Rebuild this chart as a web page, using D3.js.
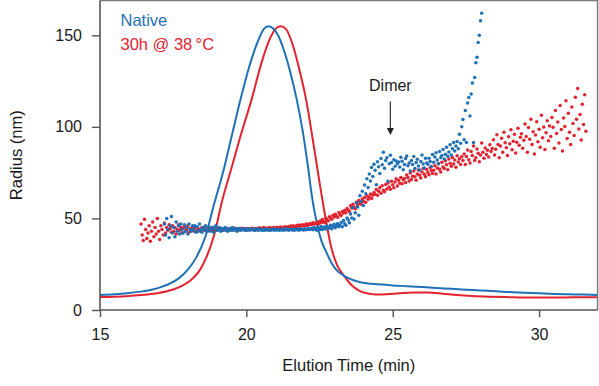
<!DOCTYPE html>
<html><head><meta charset="utf-8">
<script src="https://cdn.jsdelivr.net/npm/d3@7/dist/d3.min.js"></script>
<style>
body{margin:0;background:#fff}
svg{display:block;font-family:"Liberation Sans",Arial,Helvetica,sans-serif}
</style>
</head><body>
<svg id="chart" width="599" height="386"></svg>
<script>
// ---------------- data ----------------
const xTicks = [15, 20, 25, 30];
const yTicks = [0, 50, 100, 150];
const seriesNames = ["Native", "30h @ 38\u2009\u00B0C"];

// concentration traces (elution time, scaled signal on radius axis)
const nativeTrace = [
  [15.0,8.2],[15.5,8.6],[16.0,9.3],[16.5,10.3],[16.8,11.2],[17.1,12.6],[17.4,14.5],[17.7,17.4],
  [18.0,22.0],[18.3,29],[18.6,40],[18.9,58],[19.2,75],[19.5,95],[19.8,115],[20.1,133],[20.4,147],
  [20.6,153.5],[20.75,155],[20.9,154],[21.1,149.5],[21.3,141],[21.5,130],[21.72,115],[21.9,100],
  [22.1,79],[22.24,62],[22.4,48],[22.56,38],[22.72,32],[22.9,26],[23.1,21.5],[23.3,19],[23.5,17.3],
  [23.8,15.6],[24.1,14.6],[24.5,14.0],[25.0,13.4],[25.5,13.0],[26.0,12.5],[26.5,12.0],[27.0,11.6],
  [27.5,11.1],[28.0,10.7],[28.5,10.2],[29.0,9.8],[29.5,9.4],[30.0,9.1],[30.5,8.8],[31.0,8.6],
  [31.5,8.4],[32.0,8.2]
];
const heatedTrace = [
  [15.0,7.1],[15.5,7.3],[16.0,7.7],[16.5,8.3],[17.0,9.3],[17.5,11.2],[17.8,13.2],[18.1,16.3],
  [18.4,21.5],[18.64,29],[18.9,41],[19.18,60],[19.5,78],[19.8,95],[20.18,115],[20.5,134],[20.8,148],
  [21.0,153.5],[21.17,155],[21.35,153.5],[21.6,144],[21.8,132],[22.04,115],[22.3,90],[22.6,60],
  [22.92,33],[23.1,24.5],[23.37,18],[23.6,13.5],[23.85,10.6],[24.11,9.1],[24.4,8.5],[24.8,8.6],
  [25.2,9.1],[25.7,9.6],[26.2,9.5],[26.7,8.9],[27.2,8.2],[27.7,7.7],[28.3,7.3],[29.0,7.0],
  [29.8,6.8],[30.5,6.8],[31.2,6.9],[32.0,6.9]
];

// light-scattering radius readings, sampled every 0.04 min (one row = 1 min)
const sampleStep = 0.04;
const nativeStart = 17.2;
const nativeRadius = [
  47,41,50,44,39.5,46,51,42,45,40,48,43,46,41.5,47,44,42,46.5,43,45,41.5,47,44,43,46,
  44,46,42.5,45.5,43,47,44,42.5,45,44,46,43,44.5,45.5,43,44,45,42.5,44.5,46,43.5,44,45,43,44.5,
  44,43.5,45,44,43,44.5,44,43.5,45,43.5,44,44.5,43,44,44.5,43.5,44,43.8,44.5,43.5,44,43.6,44.3,43.7,44,
  43.8,44.2,43.4,43.9,44.3,43.5,43.8,44.1,43.6,43.9,43.4,44.2,43.7,43.9,43.5,44,43.6,43.8,44.2,43.5,43.9,43.7,44.1,43.6,43.8,
  43.9,43.5,44.2,43.7,43.9,44.3,43.6,43.8,44.1,43.7,44,43.5,44.2,43.8,44.1,43.6,44.3,43.9,44,43.7,44.4,43.8,44.1,44.5,43.9,
  44.2,44.6,43.8,45,44.4,43.6,45.2,44.5,44,45.6,43.9,44.8,45.3,44.2,45.8,44.6,45.1,46.3,44.4,45.7,46.8,44.9,46,47.2,45.5,
  46.2,47.8,45.4,48.9,47.1,46.3,50.2,49.1,47.6,52.4,50.3,55.8,49.7,53.1,58.6,56.2,51.8,62.4,59.3,64.8,57.1,68.2,63.5,71.6,66.9,
  74.2,70.5,77.8,72.9,79.6,76.3,68.4,80.9,78.2,74.6,82.7,79.3,86.1,77.4,81.6,83.2,70.3,79.8,84.5,80.6,76.9,82.1,78.5,81.3,79.9,
  80.8,78.1,83.4,81.2,76.6,79.5,82.7,84.1,78.8,80.3,75.9,81.7,79.4,83.8,77.2,80.5,82.3,78.6,76.4,81.1,84.6,79.7,77.5,82.9,80.2,
  79.6,82.8,81.1,78.4,84.9,80.7,83.5,85.8,81.9,79.8,86.6,83.2,84.4,87.7,82.5,85.1,88.9,83.9,86.3,90.2,84.7,88.1,91.4,86.8,89.5,
  92,88,96,91,100,104,93,109,91.5,113,116,106,118,124,91.5,127,135,138,146,150,158,162
];
const heatedStart = 16.4;
const heatedRadius = [
  47,41,38,49.5,44,39,42,46,37.5,43,48,40,45,41.5,50,43,38.5,46,44,41,47.5,42,45,43.5,46.5,
  44.5,42.5,46,43,45,41.5,44,46.5,43.5,45,42,44.5,45.5,43,44,46,42.5,44.5,43.5,45,44,42.8,45.2,43.6,44.4,
  44,43.2,45,44.2,43.5,44.8,43.8,44.5,43.3,44.6,44,43.6,45,43.9,44.3,43.5,44.7,44,43.8,44.4,43.6,44.2,44.8,43.7,44.1,
  44.2,43.7,44.5,43.9,44.1,44.6,43.8,44.3,43.6,44.4,44,44.7,43.9,44.2,43.7,44.5,44.1,43.8,44.4,44,44.6,43.9,44.2,44.5,43.8,
  44.4,44.9,44.1,44.6,44.3,45,44.5,44.2,44.8,44.4,45.1,44.6,44.3,45,44.7,44.5,45.2,44.8,44.6,45.3,44.9,45.1,44.7,45.4,45,
  45.2,45.6,44.9,45.8,45.3,46,45.5,45.1,46.2,45.7,46.4,45.4,46.1,46.6,45.9,46.3,46.9,46.2,47,46.5,47.3,46.7,47.6,47,47.4,
  47.2,48.1,46.9,48.6,47.8,49.4,48.2,47.6,50.1,49.3,48.8,50.9,50.2,49.6,51.7,50.8,52.3,51.1,50.6,53.2,52.1,51.6,53.8,52.9,54.3,
  53.1,55.4,54.6,53.8,56.9,55.7,57.8,56.2,55.3,58.9,57.4,59.8,58.3,57.7,60.6,59.2,61.4,58.8,62.3,60.5,61.7,63.4,60.9,62.6,64.1,
  63.2,65.8,62.7,64.9,66.7,63.8,67.9,65.4,64.6,68.5,66.1,69.4,67.2,65.9,70.3,68.4,66.8,69.9,71.6,67.7,70.8,69.2,72.4,68.9,71.1,
  71.8,69.6,73.7,72.3,70.4,74.8,71.2,73.1,75.9,72.7,70.8,74.3,76.4,73.6,72.1,75.4,77.3,74.1,72.8,76.7,75.1,73.9,77.8,76.2,74.6,
  76.3,78.8,74.2,77.6,79.9,76.8,75.4,80.7,78.1,77.2,81.5,79.3,76.6,82.4,80.1,78.5,83.3,79.7,81.9,77.9,84.2,80.8,82.6,79.4,83.7,
  81.6,85.2,79.4,83.8,87.3,82.1,80.2,86.5,84.3,89.6,81.7,83.1,87.9,85.6,80.9,84.7,91.2,86.1,82.8,88.4,84.9,87.2,83.5,90.3,86.6,
  88.2,92.9,84.6,87.8,95.7,90.4,83.1,89.5,93.8,86.2,97.1,91.3,88.6,84.4,94.6,90.8,98.4,87.5,92.1,95.9,85.7,91.6,99.2,89.9,94.3,
  96.2,88.3,92.7,101.5,94.8,86.1,99.6,93.2,104.2,90.4,97.3,85.2,95.5,102.8,91.9,98.7,88.9,106.4,94.1,99.9,87.7,96.8,103.3,92.4,100.5,
  94.7,105.1,99.8,88.3,108.9,96.4,102.7,91.2,111.6,98.5,86.8,104.9,100.2,114.3,93.6,107.4,97.1,90.4,110.8,101.9,95.3,116.2,104.1,121,98.8,
  106.7,92.8,112.4,101.3,117.5,97.6
];

// annotation
const dimerLabel = "Dimer";
const dimerTime = 24.92;

// ---------------- drawing ----------------
const BLUE = "#1f70b6", RED = "#e3232f";
const FONT = '"Liberation Sans", Arial, Helvetica, sans-serif';
const svg = d3.select("#chart");
const x = d3.scaleLinear().domain([15, 32]).range([100, 597.6]);
const y = d3.scaleLinear().domain([0, 169]).range([310, 0.5]);

const defs = svg.append("defs");
defs.append("clipPath").attr("id", "plot").append("rect")
  .attr("x", 100).attr("y", 0).attr("width", 498).attr("height", 310);

const plot = svg.append("g").attr("clip-path", "url(#plot)");

const line = d3.line().x(d => x(d[0])).y(d => y(d[1])).curve(d3.curveMonotoneX);
plot.append("path").datum(heatedTrace).attr("d", line)
  .attr("fill", "none").attr("stroke", RED).attr("stroke-width", 2);
plot.append("path").datum(nativeTrace).attr("d", line)
  .attr("fill", "none").attr("stroke", BLUE).attr("stroke-width", 2);

plot.append("g").selectAll("circle").data(heatedRadius).join("circle")
  .attr("cx", (d, i) => x(heatedStart + i * sampleStep))
  .attr("cy", d => y(d)).attr("r", 1.75).attr("fill", RED);
plot.append("g").selectAll("circle").data(nativeRadius).join("circle")
  .attr("cx", (d, i) => x(nativeStart + i * sampleStep))
  .attr("cy", d => y(d)).attr("r", 1.75).attr("fill", BLUE);

// frame (top & right)
svg.append("path")
  .attr("d", `M${x(15)},${y(169)}H${x(32)}V${y(0)}`)
  .attr("fill", "none").attr("stroke", "#7a7a7a").attr("stroke-width", 1.5);

// axes
const gx = svg.append("g").attr("transform", `translate(0,${y(0)})`)
  .call(d3.axisBottom(x).tickValues(xTicks).tickSize(7).tickPadding(12).tickSizeOuter(0));
const gy = svg.append("g").attr("transform", `translate(${x(15)},0)`)
  .call(d3.axisLeft(y).tickValues(yTicks).tickSize(8).tickPadding(10).tickSizeOuter(0));
[gx, gy].forEach(g => {
  g.attr("font-family", FONT).attr("font-size", 16);
  g.select(".domain").attr("stroke", "#555").attr("stroke-width", 1.6);
  g.selectAll(".tick line").attr("stroke", "#555").attr("stroke-width", 1.4);
  g.selectAll(".tick text").attr("fill", "#1a1a1a");
});
gy.select(".domain").attr("d", `M0,${y(169)}V${y(0)}`);
gx.select(".domain").attr("d", `M${x(15)},0H${x(32)}`);

// axis titles
svg.append("text").attr("x", (x(15) + x(32)) / 2).attr("y", 371)
  .attr("text-anchor", "middle").attr("font-size", 16.5).attr("fill", "#1a1a1a")
  .text("Elution Time (min)");
svg.append("text").attr("transform", `translate(22,${(y(0) + y(169)) / 2}) rotate(-90)`)
  .attr("text-anchor", "middle").attr("font-size", 16.5).attr("fill", "#1a1a1a")
  .text("Radius (nm)");

// legend
svg.append("text").attr("x", 120.5).attr("y", 26).attr("font-size", 16.5)
  .attr("fill", BLUE).text(seriesNames[0]);
svg.append("text").attr("x", 120.5).attr("y", 50).attr("font-size", 16.5)
  .attr("fill", RED).text(seriesNames[1]);

// dimer annotation
const ax = x(dimerTime);
svg.append("text").attr("x", ax).attr("y", 91).attr("text-anchor", "middle")
  .attr("font-size", 16).attr("fill", "#1a1a1a").text(dimerLabel);
svg.append("line").attr("x1", ax).attr("x2", ax).attr("y1", 101.5).attr("y2", 129)
  .attr("stroke", "#333").attr("stroke-width", 1.2);
svg.append("path").attr("d", `M${ax - 3.5},128H${ax + 3.5}L${ax},135Z`).attr("fill", "#222");
</script>
</body></html>
